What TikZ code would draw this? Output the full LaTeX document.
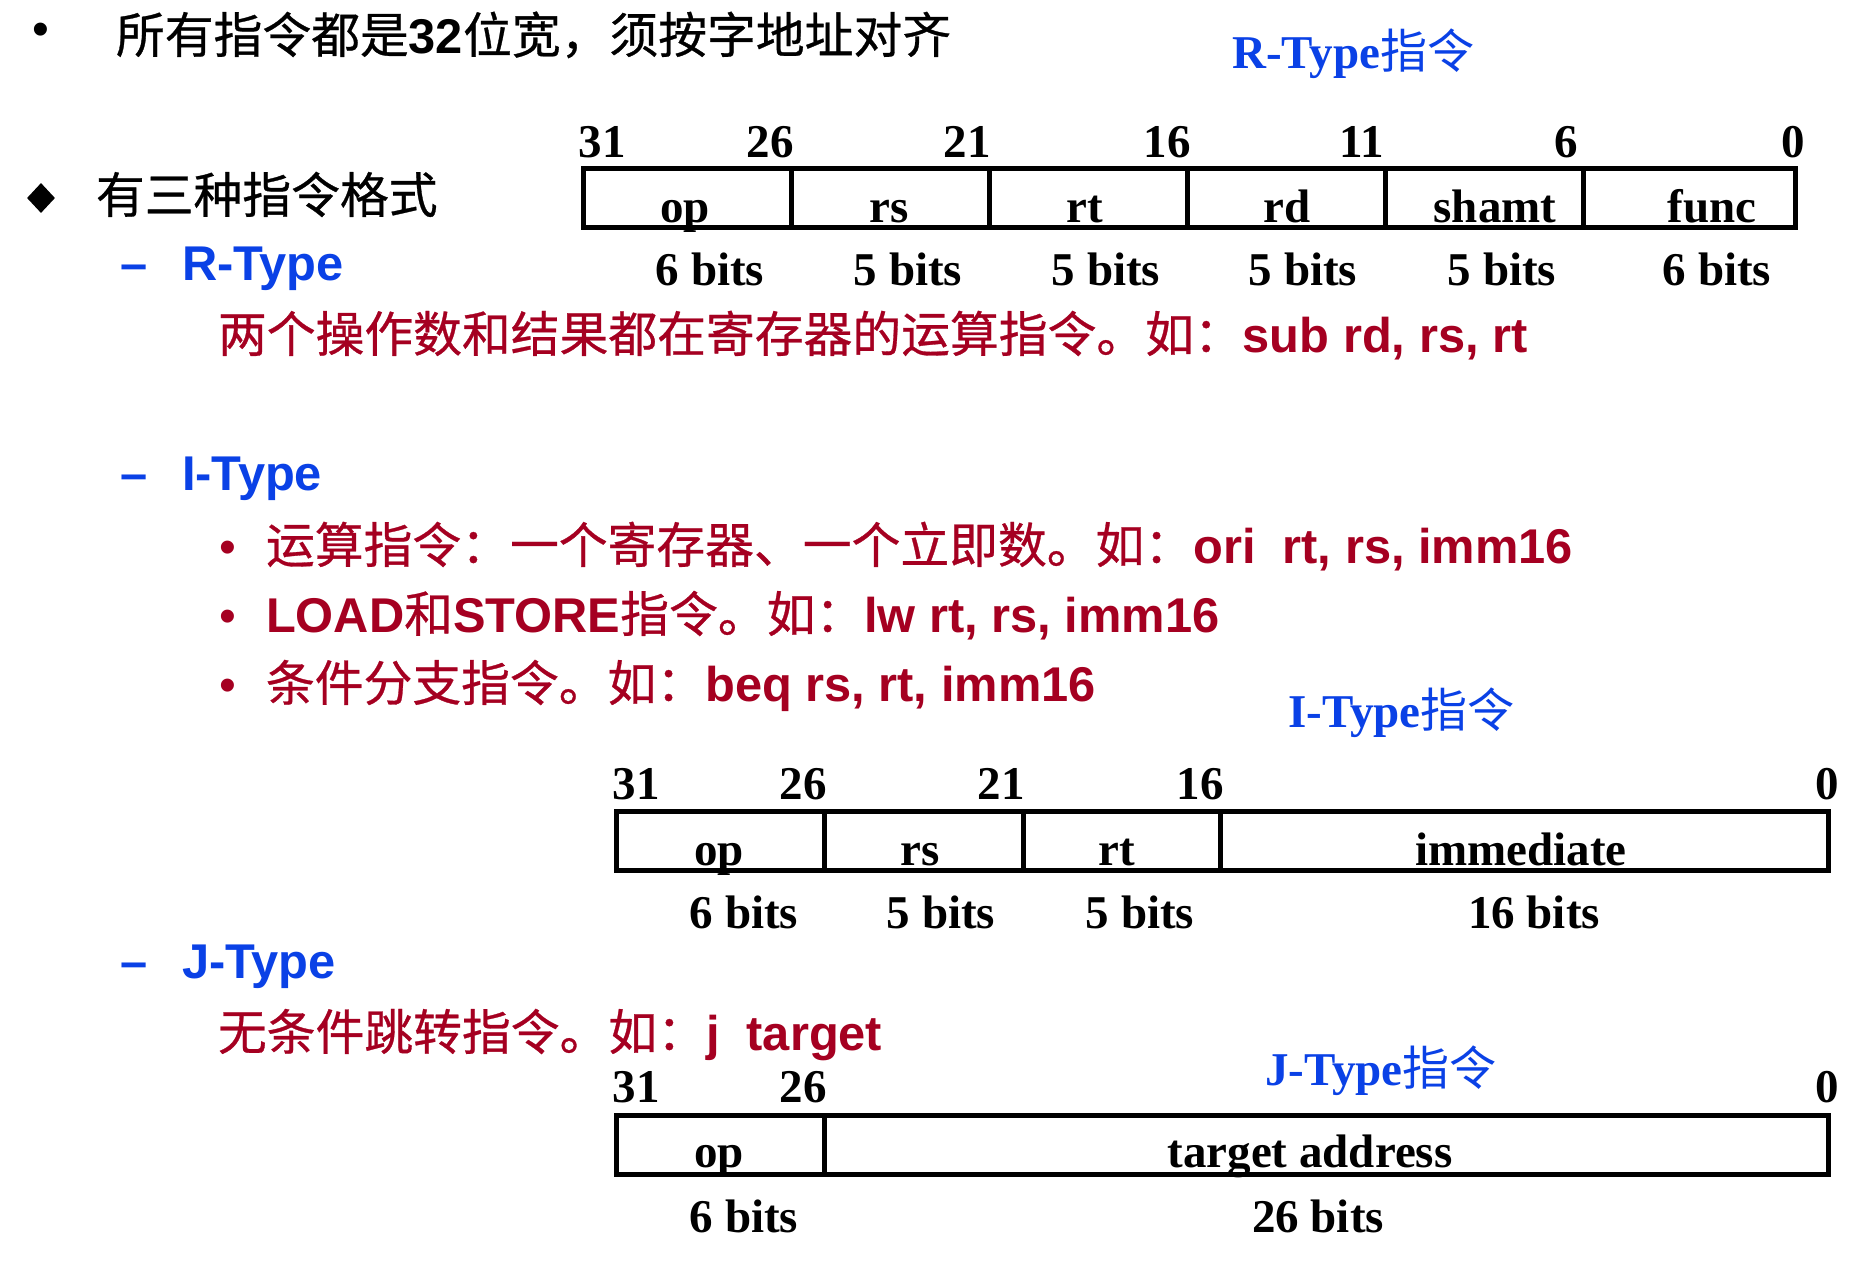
\documentclass[tikz,border=0pt]{standalone}
\usetikzlibrary{shapes.geometric}
\usepackage{fontspec}
\setmainfont{Liberation Sans}
\newfontfamily\cjk{Noto Sans CJK SC}
\newfontfamily\cjkb{Noto Sans CJK SC}[FakeBold=0.6]
\newfontfamily\latf{Liberation Sans}
\newfontfamily\serf{Liberation Serif}
\newcommand\zh[1]{{\cjkb #1}}
\newcommand\ltn[1]{{\latf\bfseries #1}}
\definecolor{tblue}{RGB}{10,65,230}
\definecolor{tred}{RGB}{165,0,33}
\tikzset{
  txt/.style={inner sep=0pt, outer sep=0pt, anchor=base west, font=\fontsize{48.8}{48.8}\selectfont},
  blacktxt/.style={txt, text=black},
  bluetxt/.style={txt, text=tblue},
  redtxt/.style={txt, text=tred},
  bluehead/.style={inner sep=0pt, anchor=base west, text=tblue, font=\serf\bfseries\fontsize{47}{47}\selectfont},
  tbl/.style={inner sep=0pt, outer sep=0pt, anchor=base, font=\serf\bfseries\fontsize{47}{47}\selectfont},
  frame/.style={line width=5pt, line join=miter},
  redbullet/.style={inner sep=0pt, anchor=base west, text=tred, font=\latf\fontsize{48}{48}\selectfont},
}
\begin{document}
\begin{tikzpicture}[x=1pt,y=-1pt]
\useasboundingbox[fill=white] (0,0) rectangle (1866,1261);

% ---------- left column text ----------
\node[inner sep=0pt, anchor=center, font=\latf\fontsize{48}{48}\selectfont] (b0) at (41,34) {•};
\node[blacktxt] (l1) at (116,53) {\zh{所有指令都是}\ltn{32}\zh{位宽，须按字地址对齐}};

\node[diamond, fill=black, inner sep=0pt, minimum width=28pt, minimum height=30pt] (dm) at (41,198) {};
\node[blacktxt] (l2) at (96,213) {\zh{有三种指令格式}};

\node[bluetxt] (d1) at (120,280) {\ltn{–}};
\node[bluetxt] (rt) at (182,280) {\ltn{R-Type}};
\node[redtxt] (rdesc) at (218,352) {\zh{两个操作数和结果都在寄存器的运算指令。如：}\ltn{sub rd, rs, rt}};

\node[bluetxt] (d2) at (120,490) {\ltn{–}};
\node[bluetxt] (it) at (182,490) {\ltn{I-Type}};

\node[redbullet] (ib1) at (219,563) {•};
\node[redtxt] (i1) at (266,563) {\zh{运算指令：一个寄存器、一个立即数。如：}\ltn{ori~~rt, rs, imm16}};
\node[redbullet] (ib2) at (219,632) {•};
\node[redtxt] (i2) at (266,632) {\ltn{LOAD}\zh{和}\ltn{STORE}\zh{指令。如：}\ltn{lw rt, rs, imm16}};
\node[redbullet] (ib3) at (219,701) {•};
\node[redtxt] (i3) at (266,701) {\zh{条件分支指令。如：}\ltn{beq rs, rt, imm16}};

\node[bluetxt] (d3) at (120,978) {\ltn{–}};
\node[bluetxt] (jt) at (182,978) {\ltn{J-Type}};
\node[redtxt] (jdesc) at (218,1050) {\zh{无条件跳转指令。如：}\ltn{j~~target}};

% ---------- headings ----------
\node[bluehead] (rhead) at (1232,68) {R-Type{\cjk\mdseries 指令}};
\node[bluehead] (ihead) at (1288,727) {I-Type{\cjk\mdseries 指令}};
\node[bluehead] (jhead) at (1265,1085) {J-Type{\cjk\mdseries 指令}};

% ---------- R-type table ----------
\draw[frame] (583,168) rectangle (1795,227.5);
\foreach \x in {791,989,1187,1385,1583} \draw[frame] (\x,168) -- (\x,227.5);
\foreach \x/\t in {602/31,770/26,967/21,1167/16,1362/11,1566/6,1793/0}
  \node[tbl] (rn\t) at (\x,157) {\t};
\foreach \x/\t/\n in {685/op/1,889/rs/2,1085/rt/3,1287/rd/4,1495/shamt/5,1712/func/6}
  \node[tbl] (rf\n) at (\x,222) {\t};
\foreach \x/\t/\n in {710/6/1,908/5/2,1106/5/3,1303/5/4,1502/5/5,1717/6/6}
  \node[tbl] (rb\n) at (\x,285) {\t\ bits};

% ---------- I-type table ----------
\draw[frame] (616,811) rectangle (1828,870);
\foreach \x in {824,1023,1220} \draw[frame] (\x,811) -- (\x,870);
\foreach \x/\t in {636/31,803/26,1001/21,1200/16,1827/0}
  \node[tbl] (in\t) at (\x,799) {\t};
\foreach \x/\t/\n in {719/op/1,920/rs/2,1117/rt/3,1521/immediate/4}
  \node[tbl] (if\n) at (\x,865) {\t};
\foreach \x/\t/\n in {744/6/1,941/5/2,1140/5/3,1534/16/4}
  \node[tbl] (ib\n) at (\x,928) {\t\ bits};

% ---------- J-type table ----------
\draw[frame] (616,1115) rectangle (1828,1174);
\draw[frame] (824,1115) -- (824,1174);
\foreach \x/\t in {636/31,803/26,1827/0}
  \node[tbl] (jn\t) at (\x,1102) {\t};
\node[tbl] (jf1) at (719,1167) {op};
\node[tbl] (jf2) at (1310,1167) {target address};
\node[tbl] (jb1) at (744,1232) {6 bits};
\node[tbl] (jb2) at (1318,1232) {26 bits};
\end{tikzpicture}
\end{document}
